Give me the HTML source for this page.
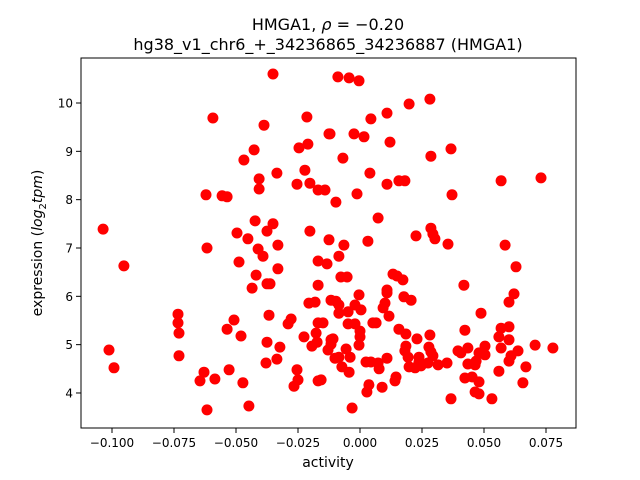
<!DOCTYPE html>
<html><head><meta charset="utf-8"><style>
body{margin:0;background:#fff}
svg{display:block;font-family:"DejaVu Sans","Liberation Sans",sans-serif}
</style></head><body>
<svg id="chart" width="640" height="480" viewBox="0 0 640 480" xmlns="http://www.w3.org/2000/svg">
<rect width="640" height="480" fill="#fff"/>
<text x="328" y="30" font-size="16" text-anchor="middle">HMGA1, <tspan font-style="italic">ρ</tspan> = −0.20</text>
<text x="328" y="50" font-size="16" text-anchor="middle">hg38_v1_chr6_+_34236865_34236887 (HMGA1)</text>
<g id="points"></g>
<g id="axes"></g>
<text x="328" y="467" font-size="14" text-anchor="middle">activity</text>
<text transform="translate(42,243) rotate(-90)" font-size="14" text-anchor="middle">expression (<tspan font-style="italic">log</tspan><tspan font-size="10" dy="4">2</tspan><tspan dy="-4" font-style="italic">tpm</tspan>)</text>
</svg>
<script>
const xTicks=[-0.100,-0.075,-0.050,-0.025,0.000,0.025,0.050,0.075];
const xTickLabels=["−0.100","−0.075","−0.050","−0.025","0.000","0.025","0.050","0.075"];
const yTicks=[4,5,6,7,8,9,10];
const yTickLabels=["4","5","6","7","8","9","10"];
const activity=[-0.0351,-0.0593,-0.0387,-0.0214,-0.0125,-0.0427,-0.0468,-0.0246,-0.0210,-0.0407,-0.0335,-0.0222,-0.0407,-0.0254,-0.0202,-0.0169,-0.0141,-0.0621,-0.0556,-0.0536,-0.1036,-0.0423,-0.0351,-0.0496,-0.0375,-0.0202,-0.0452,-0.0617,-0.0411,-0.0331,-0.0125,-0.0952,-0.0391,-0.0488,-0.0331,-0.0169,-0.0133,-0.0419,-0.0435,-0.0375,-0.0363,-0.0169,-0.0206,-0.0181,-0.0117,-0.0734,-0.0734,-0.0730,-0.0508,-0.0536,-0.0480,-0.0367,-0.0278,-0.0290,-0.0169,-0.0149,-0.0177,-0.0226,-0.0173,-0.0194,-0.0129,-0.0117,-0.1012,-0.0992,-0.0730,-0.0375,-0.0323,-0.0335,-0.0379,-0.0254,-0.0250,-0.0266,-0.0169,-0.0157,-0.0629,-0.0645,-0.0585,-0.0528,-0.0472,-0.0448,-0.0617,
-0.0089,-0.0044,-0.0004,0.0282,0.0198,0.0109,0.0044,-0.0121,-0.0024,0.0016,0.0121,0.0367,0.0286,-0.0069,0.0040,0.0109,0.0157,0.0181,0.0569,0.0730,-0.0012,-0.0097,0.0371,0.0073,-0.0065,0.0032,0.0226,0.0286,0.0294,0.0302,0.0355,0.0585,
0.0629,-0.0085,-0.0077,-0.0052,0.0133,0.0149,0.0173,0.0419,0.0109,0.0109,-0.0004,0.0621,0.0601,0.0177,0.0206,-0.0097,-0.0085,-0.0020,0.0004,0.0101,0.0093,-0.0085,-0.0048,0.0117,0.0488,-0.0048,-0.0020,0.0052,0.0065,0.0000,0.0000,-0.0004,-0.0109,-0.0117,-0.0056,-0.0040,-0.0101,-0.0085,-0.0073,-0.0044,0.0157,0.0185,0.0230,0.0282,0.0185,0.0181,0.0194,0.0278,0.0286,0.0294,0.0238,0.0238,0.0274,0.0246,0.0222,0.0198,0.0315,0.0351,0.0109,0.0077,0.0073,0.0024,0.0044,0.0145,0.0141,0.0036,0.0028,0.0089,-0.0032,0.0423,0.0395,0.0435,0.0407,0.0504,0.0504,0.0480,0.0468,0.0435,0.0464,0.0423,0.0452,0.0480,0.0464,0.0480,0.0367,0.0532,0.0569,0.0601,0.0560,0.0601,0.0569,0.0637,0.0609,0.0601,0.0706,0.0778,0.0669,0.0560,0.0657];
const expression=[10.60,9.69,9.54,9.71,9.36,9.03,8.82,9.07,9.15,8.43,8.55,8.61,8.22,8.32,8.34,8.20,8.20,8.10,8.08,8.06,7.39,7.56,7.50,7.31,7.35,7.35,7.19,7.00,6.98,7.06,7.17,6.63,6.83,6.71,6.57,6.73,6.67,6.44,6.17,6.26,6.26,6.23,5.86,5.88,5.92,5.63,5.45,5.24,5.51,5.32,5.18,5.61,5.53,5.43,5.45,5.45,5.24,5.16,5.05,4.97,4.89,5.10,4.89,4.52,4.77,5.05,4.95,4.70,4.62,4.48,4.27,4.14,4.25,4.27,4.43,4.25,4.29,4.48,4.21,3.73,3.65,
10.54,10.52,10.46,10.08,9.98,9.79,9.67,9.36,9.36,9.30,9.19,9.05,8.90,8.86,8.55,8.32,8.39,8.39,8.39,8.45,8.12,7.95,8.10,7.62,7.06,7.14,7.25,7.41,7.29,7.19,7.08,7.06,
6.61,6.83,6.40,6.40,6.46,6.42,6.34,6.23,6.13,6.07,6.03,6.05,5.88,5.99,5.92,5.90,5.82,5.82,5.72,5.86,5.76,5.65,5.68,5.59,5.65,5.43,5.43,5.45,5.45,5.28,5.16,4.99,5.12,5.01,4.91,4.74,4.72,4.74,4.54,4.43,5.32,5.22,5.12,5.20,4.97,4.87,4.74,4.95,4.85,4.77,4.74,4.64,4.62,4.56,4.52,4.54,4.58,4.62,4.72,4.50,4.62,4.64,4.64,4.33,4.25,4.17,4.02,4.12,3.69,5.30,4.87,4.93,4.83,4.97,4.79,4.83,4.66,4.60,4.58,4.31,4.33,4.23,4.02,3.98,3.88,3.88,5.34,5.37,5.16,5.10,4.93,4.87,4.77,4.66,4.99,4.93,4.54,4.45,4.21];

const L=81,R=576,T=58,B=428;
function xScale(v){return 360+v*2480;}
function yScale(v){return 103+(10-v)*48.33;}
const NS="http://www.w3.org/2000/svg";
const pts=document.getElementById('points');
for(let i=0;i<activity.length;i++){
  const c=document.createElementNS(NS,'circle');
  c.setAttribute('cx',xScale(activity[i]).toFixed(1));
  c.setAttribute('cy',yScale(expression[i]).toFixed(1));
  c.setAttribute('r','5.5');
  c.setAttribute('fill','#ff0000');
  
  
  pts.appendChild(c);
}
const ax=document.getElementById('axes');
const frame=document.createElementNS(NS,'rect');
frame.setAttribute('x',L);frame.setAttribute('y',T);
frame.setAttribute('width',R-L);frame.setAttribute('height',B-T);
frame.setAttribute('fill','none');frame.setAttribute('stroke','#000');frame.setAttribute('stroke-width','1');


ax.appendChild(frame);
xTicks.forEach((t,i)=>{
  const x=xScale(t);
  const ln=document.createElementNS(NS,'line');
  ln.setAttribute('x1',x);ln.setAttribute('x2',x);ln.setAttribute('y1',B);ln.setAttribute('y2',B+5);
  ln.setAttribute('stroke','#000');
  
  
  ax.appendChild(ln);
  const tx=document.createElementNS(NS,'text');
  tx.setAttribute('x',x);tx.setAttribute('y',B+19);tx.setAttribute('font-size','12');tx.setAttribute('text-anchor','middle');
  tx.textContent=xTickLabels[i];
  
  
  ax.appendChild(tx);
});
yTicks.forEach((t,i)=>{
  const y=yScale(t);
  const ln=document.createElementNS(NS,'line');
  ln.setAttribute('x1',L-5);ln.setAttribute('x2',L);ln.setAttribute('y1',y);ln.setAttribute('y2',y);
  ln.setAttribute('stroke','#000');
  
  
  ax.appendChild(ln);
  const tx=document.createElementNS(NS,'text');
  tx.setAttribute('x',L-8);tx.setAttribute('y',y+4.5);tx.setAttribute('font-size','12');tx.setAttribute('text-anchor','end');
  tx.textContent=yTickLabels[i];
  
  
  ax.appendChild(tx);
});
</script>
</body></html>
